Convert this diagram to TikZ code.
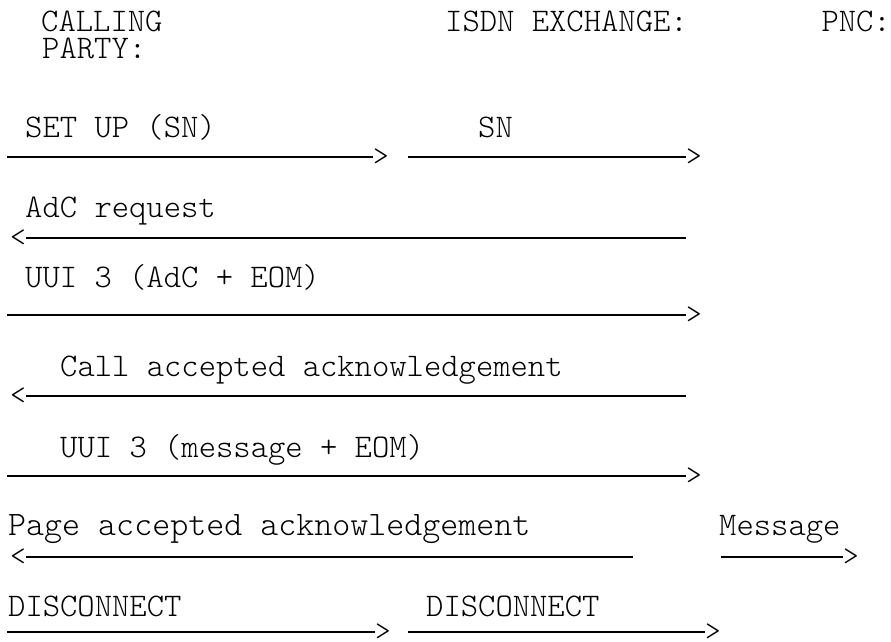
\documentclass[tikz,border=0pt]{standalone}
\usepackage{fontspec}
\setmonofont{Latin Modern Mono Light}
\usepackage{tikz}

\begin{document}
\begin{tikzpicture}[
  x=1pt, y=-1pt,
  lbl/.style={anchor=base west, inner sep=0pt,
              font=\ttfamily\fontsize{33}{33}\selectfont},
  tipr/.style={anchor=west, inner sep=0pt,
               font=\ttfamily\fontsize{30}{30}\selectfont},
  tipl/.style={anchor=east, inner sep=0pt,
               font=\ttfamily\fontsize{30}{30}\selectfont},
  msg/.style={line width=1.2pt}
]
\useasboundingbox (0,0) rectangle (891,641);

\node[lbl] (calling) at (41,31) {CALLING};
\node[lbl] (party)   at (42,58) {PARTY:};
\node[lbl] (isdn)    at (445,31) {ISDN EXCHANGE:};
\node[lbl, anchor=base east] (pnc) at (891,31) {PNC:};

\node[lbl] (setup)  at (25,137) {SET UP (SN)};
\node[lbl] (sn)     at (478,137) {SN};
\node[lbl] (adcreq) at (25,217) {AdC request};
\node[lbl] (uuiadc) at (25,287) {UUI 3 (AdC + EOM)};
\node[lbl] (callack) at (60,376) {Call accepted acknowledgement};
\node[lbl] (uuimsg) at (60,457) {UUI 3 (message + EOM)};
\node[lbl, font=\ttfamily\fontsize{34.3}{34.3}\selectfont] (pageack) at (8,535) {Page accepted acknowledgement};
\node[lbl] (message) at (719,535) {Message};
\node[lbl] (disc)   at (8,616) {DISCONNECT};
\node[lbl] (discx)  at (426,616) {DISCONNECT};

\coordinate (s1a) at (7,157);
\node[tipr] (t1a) at (373,157) {>};
\coordinate (s1b) at (408,157);
\node[tipr] (t1b) at (686,157) {>};
\node[tipl] (t2) at (26,238) {<};
\coordinate (e2) at (686,238);
\coordinate (s3) at (7,315);
\node[tipr] (t3) at (686,315) {>};
\node[tipl] (t4) at (26,396) {<};
\coordinate (e4) at (686,396);
\coordinate (s5) at (7,476);
\node[tipr] (t5) at (686,476) {>};
\node[tipl] (t6) at (26,557) {<};
\coordinate (e6) at (633,557);
\coordinate (s6m) at (721,557);
\node[tipr] (t6m) at (843,557) {>};
\coordinate (s7a) at (7,632);
\node[tipr] (t7a) at (375,632) {>};
\coordinate (s7b) at (408,632);
\node[tipr] (t7b) at (705,632) {>};

\draw[msg] (s1a) -- (t1a.west);
\draw[msg] (s1b) -- (t1b.west);
\draw[msg] (t2.east) -- (e2);
\draw[msg] (s3) -- (t3.west);
\draw[msg] (t4.east) -- (e4);
\draw[msg] (s5) -- (t5.west);
\draw[msg] (t6.east) -- (e6);
\draw[msg] (s6m) -- (t6m.west);
\draw[msg] (s7a) -- (t7a.west);
\draw[msg] (s7b) -- (t7b.west);
\end{tikzpicture}
\end{document}
